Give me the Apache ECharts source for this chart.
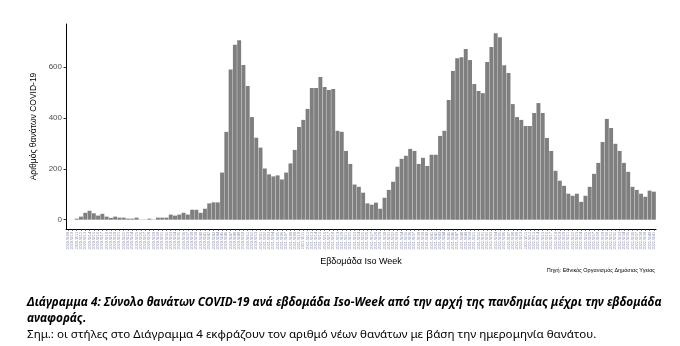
<!DOCTYPE html>
<html>
<head>
<meta charset="utf-8">
<script src="https://cdn.jsdelivr.net/npm/echarts@6/dist/echarts.min.js"></script>
<style>
html,body{margin:0;padding:0;background:#fff;}
#chart{width:680px;height:346px;}
</style>
</head>
<body>
<div id="chart"></div>
<script>
// ISO week categories
const weeks2020 = ["2020-W09","2020-W10","2020-W11","2020-W12","2020-W13","2020-W14","2020-W15","2020-W16","2020-W17","2020-W18","2020-W19","2020-W20","2020-W21","2020-W22","2020-W23","2020-W24","2020-W25","2020-W26","2020-W27","2020-W28","2020-W29","2020-W30","2020-W31","2020-W32","2020-W33","2020-W34","2020-W35","2020-W36","2020-W37","2020-W38","2020-W39","2020-W40","2020-W41","2020-W42","2020-W43","2020-W44","2020-W45","2020-W46","2020-W47","2020-W48","2020-W49","2020-W50","2020-W51","2020-W52","2020-W53"];
const weeks2021 = ["2021-W01","2021-W02","2021-W03","2021-W04","2021-W05","2021-W06","2021-W07","2021-W08","2021-W09","2021-W10","2021-W11","2021-W12","2021-W13","2021-W14","2021-W15","2021-W16","2021-W17","2021-W18","2021-W19","2021-W20","2021-W21","2021-W22","2021-W23","2021-W24","2021-W25","2021-W26","2021-W27","2021-W28","2021-W29","2021-W30","2021-W31","2021-W32","2021-W33","2021-W34","2021-W35","2021-W36","2021-W37","2021-W38","2021-W39","2021-W40","2021-W41","2021-W42","2021-W43","2021-W44","2021-W45","2021-W46","2021-W47","2021-W48","2021-W49","2021-W50","2021-W51","2021-W52"];
const weeks2022 = ["2022-W01","2022-W02","2022-W03","2022-W04","2022-W05","2022-W06","2022-W07","2022-W08","2022-W09","2022-W10","2022-W11","2022-W12","2022-W13","2022-W14","2022-W15","2022-W16","2022-W17","2022-W18","2022-W19","2022-W20","2022-W21","2022-W22","2022-W23","2022-W24","2022-W25","2022-W26","2022-W27","2022-W28","2022-W29","2022-W30","2022-W31","2022-W32","2022-W33","2022-W34","2022-W35","2022-W36","2022-W37","2022-W38","2022-W39","2022-W40","2022-W41"];
const categories = weeks2020.concat(weeks2021, weeks2022);

// weekly deaths
const deaths2020 = [0,0,4,12,27,35,25,16,23,12,7,12,8,8,4,4,8,1,1,4,1,8,8,8,20,16,20,
  27,20,39,39,27,43,64,68,68,185,345,590,687,705,608,525,403,322];
const deaths2021 = [283,201,178,170,174,158,185,221,274,
  364,392,435,517,517,560,521,509,513,349,345,270,219,138,129,106,64,59,67,43,86,117,149,208,239,251,278,
  270,219,243,211,255,255,329];
const deaths2022 = [349,470,584,634,638,670,627,533,505,497,619,678,732,717,607,576,454,403,392,368,368,419,
  458,419,321,270,192,153,133,102,94,102,70,94,129,180,223,305,396,360,298,270,223,188,129,117,102,90,114,110];
const deaths = deaths2020.concat(deaths2021, deaths2022);

const yTicks = [0, 200, 400, 600];

const maxVal = Math.max.apply(null, deaths);
const yMin = -maxVal * 0.05;
const yMax = maxVal * 1.05;

const chart = echarts.init(document.getElementById('chart'), null, {renderer: 'canvas'});
const sans = '"Liberation Sans", Arial, sans-serif';
const capFont = '"Noto Sans", "Open Sans", sans-serif';

chart.setOption({
  animation: false,
  backgroundColor: '#ffffff',
  grid: {left: 66, right: 24, top: 24, bottom: 117, containLabel: false},
  xAxis: {
    type: 'category',
    data: categories,
    boundaryGap: true,
    name: 'Εβδομάδα Iso Week',
    nameLocation: 'middle',
    nameGap: 27,
    nameTextStyle: {fontFamily: sans, fontSize: 9, color: '#000'},
    axisLine: {onZero: false, lineStyle: {color: '#000', width: 1}},
    axisTick: {show: true, alignWithLabel: true, interval: 0, length: 2, lineStyle: {color: '#333', width: 0.6}},
    axisLabel: {interval: 0, rotate: 90, fontSize: 3.8, margin: 3, color: '#8a8fb0', fontFamily: sans},
    splitLine: {show: false}
  },
  yAxis: {
    type: 'value',
    min: yMin,
    max: yMax,
    name: 'Αριθμός θανάτων COVID-19',
    nameLocation: 'middle',
    nameGap: 24,
    nameRotate: 90,
    nameTextStyle: {fontFamily: sans, fontSize: 8.5, color: '#000'},
    axisLine: {show: true, lineStyle: {color: '#000', width: 1}},
    axisTick: {show: true, length: 2.5, customValues: yTicks, lineStyle: {color: '#333'}},
    axisLabel: {customValues: yTicks, fontSize: 8, color: '#4d4d4d', margin: 4, fontFamily: sans},
    splitLine: {show: false}
  },
  series: [{
    type: 'bar',
    data: deaths,
    barCategoryGap: '8%',
    itemStyle: {color: '#7f7f7f'},
    silent: true
  }],
  graphic: [
    {type: 'text', style: {text: 'Πηγή: Εθνικός Οργανισμός Δημόσιας Υγείας', x: 655, y: 270, textAlign: 'right', textVerticalAlign: 'middle', font: '5.5px ' + sans, fill: '#000'}},
    {type: 'text', style: {text: 'Διάγραμμα 4: Σύνολο θανάτων COVID-19 ανά εβδομάδα Iso-Week από την αρχή της πανδημίας μέχρι την εβδομάδα', x: 27, y: 303, textAlign: 'left', textVerticalAlign: 'middle', font: 'italic bold 11.8px ' + capFont, fill: '#000'}},
    {type: 'text', style: {text: 'αναφοράς.', x: 27, y: 319, textAlign: 'left', textVerticalAlign: 'middle', font: 'italic bold 11.8px ' + capFont, fill: '#000'}},
    {type: 'text', style: {text: 'Σημ.: οι στήλες στο Διάγραμμα 4 εκφράζουν τον αριθμό νέων θανάτων με βάση την ημερομηνία θανάτου.', x: 27, y: 335, textAlign: 'left', textVerticalAlign: 'middle', font: '11.6px ' + capFont, fill: '#000'}}
  ]
});
</script>
</body>
</html>
